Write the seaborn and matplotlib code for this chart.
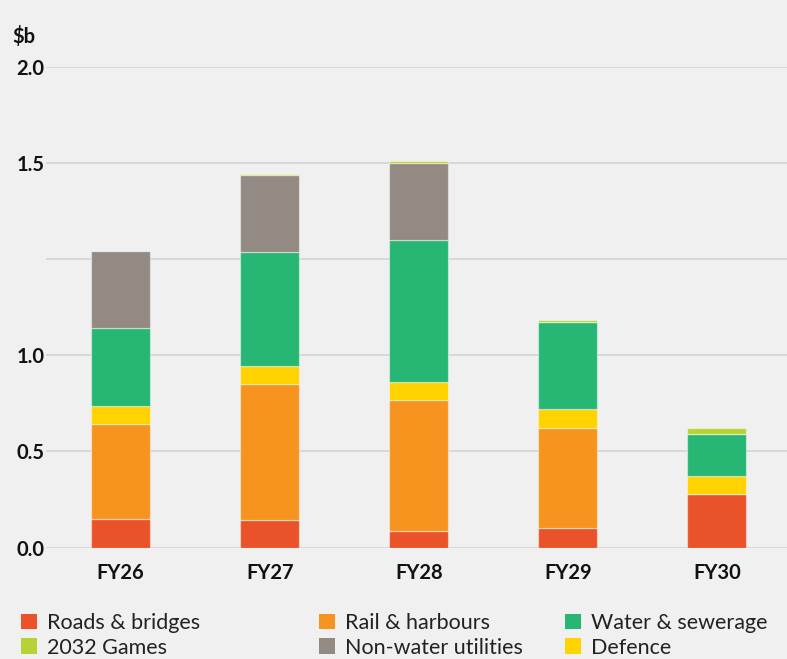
import matplotlib
matplotlib.use("Agg")
import matplotlib.pyplot as plt
from matplotlib.patches import Patch
import numpy as np
import pandas as pd
import seaborn as sns

# Financial years
years = ["FY26", "FY27", "FY28", "FY29", "FY30"]

# Spend by category, $b (stacked bottom to top)
roads_bridges = [0.147, 0.145, 0.088, 0.103, 0.279]
rail_harbours = [0.493, 0.705, 0.677, 0.521, 0.0]
defence = [0.094, 0.092, 0.096, 0.096, 0.094]
water_sewerage = [0.408, 0.597, 0.740, 0.451, 0.219]
non_water_utilities = [0.401, 0.401, 0.399, 0.0, 0.0]
games_2032 = [0.0, 0.005, 0.013, 0.013, 0.031]

# Axis ticks and their printed labels
y_ticks = [0.0, 0.5, 1.0, 1.5, 2.0, 2.5]
y_tick_labels = ["0.0", "0.5", "1.0", "", "1.5", "2.0"]

series = [
    ("Roads & bridges", roads_bridges, "#EA5329"),
    ("Rail & harbours", rail_harbours, "#F7941F"),
    ("Defence", defence, "#FFD200"),
    ("Water & sewerage", water_sewerage, "#27B673"),
    ("Non-water utilities", non_water_utilities, "#938A83"),
    ("2032 Games", games_2032, "#B6D335"),
]

rows = []
for name, vals, _ in series:
    for i, v in enumerate(vals):
        rows.append({"pos": i, "category": name, "value": v})
df = pd.DataFrame(rows)

sns.set_theme(style="white")
BG = "#F0F0F0"
plt.rcParams["font.family"] = ["Lato", "DejaVu Sans"]

fig = plt.figure(figsize=(7.87, 6.59), dpi=100, facecolor=BG)
ax = fig.add_axes([46 / 787, 1 - 547.5 / 659, 1 - 46 / 787, (547.5 - 67) / 659])
ax.set_facecolor(BG)

bottom = np.zeros(len(years))
for name, vals, color in series:
    sub = df[df["category"] == name]
    sns.barplot(data=sub, x="pos", y="value", order=list(range(len(years))),
                color=color, width=0.396, bottom=bottom,
                edgecolor=(1, 1, 1, 0.45), linewidth=0.9, saturation=1,
                errorbar=None, ax=ax, zorder=3)
    bottom = bottom + np.array(vals)

ax.set_xlim(-0.5, 4.47)
ax.set_ylim(0, 2.5)
ax.set_yticks(y_ticks)
ax.set_yticklabels(y_tick_labels)
ax.set_xticks(range(len(years)))
ax.set_xticklabels(years)
ax.set_xlabel("")
ax.set_ylabel("")
ax.yaxis.grid(True, color="#D8D8D8", linewidth=1.4, zorder=0)
ax.set_axisbelow(True)
for s in ax.spines.values():
    s.set_visible(False)
ax.tick_params(axis="y", length=0, pad=1, labelsize=14.5, labelcolor="#111111")
ax.tick_params(axis="x", length=0, pad=11, labelsize=14.5, labelcolor="#111111")
for lab in ax.get_xticklabels() + ax.get_yticklabels():
    lab.set_fontweight("bold")

fig.text(12 / 787, 1 - 36 / 659, "$b", fontsize=14.5, fontweight="bold",
         color="#111111", va="center", ha="left")

# Legend laid out in three columns
colour_of = {name: color for name, _, color in series}
columns = [
    (["Roads & bridges", "2032 Games"], 21),
    (["Rail & harbours", "Non-water utilities"], 319),
    (["Water & sewerage", "Defence"], 565),
]
for names, x0 in columns:
    handles = [Patch(facecolor=colour_of[n], edgecolor="none") for n in names]
    fig.legend(handles, names, loc="upper left",
               bbox_to_anchor=(x0 / 787, 1 - 613 / 659), frameon=False,
               fontsize=15.5, handlelength=0.74, handleheight=0.74,
               handletextpad=0.45, labelspacing=0.22, borderpad=0,
               borderaxespad=0, labelcolor="#222222")

fig.savefig("out.png", dpi=100, facecolor=BG)
